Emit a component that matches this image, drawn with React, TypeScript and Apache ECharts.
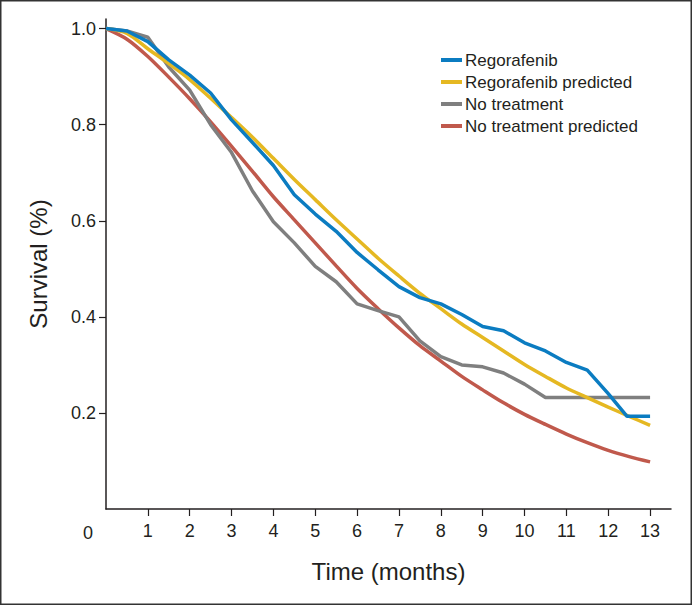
import React, { useEffect, useRef } from "react";
import * as echarts from "echarts";

const seriesNames = ["Regorafenib", "Regorafenib predicted", "No treatment", "No treatment predicted"];
const seriesColors = ["#0b7cc1", "#e5b822", "#7f7f7f", "#c0594c"];

const regorafenib: [number, number][] = [
  [0, 1], [0.5, 0.995], [1, 0.973], [1.5, 0.935], [2, 0.903], [2.5, 0.866], [3, 0.81],
  [3.5, 0.763], [4, 0.715], [4.5, 0.654], [5, 0.614], [5.5, 0.578], [6, 0.534],
  [6.5, 0.498], [7, 0.463], [7.5, 0.44], [8, 0.427], [8.5, 0.405], [9, 0.38],
  [9.5, 0.371], [10, 0.346], [10.5, 0.329], [11, 0.305], [11.5, 0.289], [12, 0.24],
  [12.45, 0.193], [13, 0.193],
];

const regorafenibPredicted: [number, number][] = [
  [0, 1], [0.5, 0.99], [1, 0.958], [1.5, 0.927], [2, 0.894], [2.5, 0.855], [3, 0.815],
  [3.5, 0.774], [4, 0.73], [4.5, 0.686], [5, 0.644], [5.5, 0.602], [6, 0.562],
  [6.5, 0.522], [7, 0.485], [7.5, 0.449], [8, 0.417], [8.5, 0.385], [9, 0.357],
  [9.5, 0.329], [10, 0.301], [10.5, 0.276], [11, 0.252], [11.5, 0.232], [12, 0.212],
  [12.5, 0.193], [13, 0.174],
];

const noTreatment: [number, number][] = [
  [0, 1], [0.5, 0.995], [1, 0.982], [1.5, 0.92], [2, 0.872], [2.5, 0.8], [3, 0.742],
  [3.5, 0.662], [4, 0.598], [4.5, 0.554], [5, 0.505], [5.5, 0.473], [6, 0.427],
  [6.5, 0.413], [7, 0.4], [7.5, 0.35], [8, 0.317], [8.5, 0.3], [9, 0.296],
  [9.5, 0.283], [10, 0.26], [10.5, 0.232], [13, 0.232],
];

const noTreatmentPredicted: [number, number][] = [
  [0, 1], [0.5, 0.978], [1, 0.942], [1.5, 0.899], [2, 0.854], [2.5, 0.806], [3, 0.755],
  [3.5, 0.703], [4, 0.65], [4.5, 0.602], [5, 0.554], [5.5, 0.506], [6, 0.459],
  [6.5, 0.417], [7, 0.377], [7.5, 0.34], [8, 0.308], [8.5, 0.276], [9, 0.248],
  [9.5, 0.221], [10, 0.197], [10.5, 0.176], [11, 0.156], [11.5, 0.138], [12, 0.122],
  [12.5, 0.109], [13, 0.098],
];

const xTickValues = [1, 2, 3, 4, 5, 6, 7, 8, 9, 10, 11, 12, 13];
const yTickValues = [0.2, 0.4, 0.6, 0.8, 1.0];

const FONT = "'Liberation Sans', Arial, sans-serif";
const INK = "#231f20";

export default function App() {
  const ref = useRef<HTMLDivElement>(null);

  useEffect(() => {
    if (!ref.current) return;
    const chart = echarts.init(ref.current, null, { renderer: "svg" });
    const allData = [regorafenib, regorafenibPredicted, noTreatment, noTreatmentPredicted];
    chart.setOption({
      animation: false,
      backgroundColor: "#ffffff",
      grid: { left: 106, right: 21, top: 19, bottom: 96, containLabel: false },
      legend: {
        orient: "vertical",
        left: 436,
        top: 46,
        icon: "rect",
        itemWidth: 21,
        itemHeight: 4,
        itemGap: 4,
        data: seriesNames,
        textStyle: { fontFamily: FONT, fontSize: 17, color: INK, lineHeight: 18, padding: [0, 0, 0, -2] },
      },
      xAxis: {
        type: "value",
        min: 0,
        max: 13.5,
        interval: 1,
        name: "Time (months)",
        nameLocation: "middle",
        nameGap: 50,
        nameTextStyle: { fontFamily: FONT, fontSize: 24, color: INK },
        splitLine: { show: false },
        axisLine: { lineStyle: { color: INK, width: 1.5 } },
        axisTick: { customValues: xTickValues, length: 7, lineStyle: { color: INK, width: 1.2 } },
        axisLabel: {
          customValues: xTickValues,
          fontFamily: FONT,
          fontSize: 18,
          color: INK,
          margin: 13,
        },
      },
      yAxis: {
        type: "value",
        min: 0,
        max: 1.02,
        interval: 0.2,
        name: "Survival (%)",
        nameLocation: "middle",
        nameGap: 56,
        nameTextStyle: { fontFamily: FONT, fontSize: 24, color: INK },
        splitLine: { show: false },
        axisLine: { show: true, lineStyle: { color: INK, width: 1.5 } },
        axisTick: { show: true, customValues: yTickValues, length: 7, lineStyle: { color: INK, width: 1.2 } },
        axisLabel: {
          customValues: yTickValues,
          formatter: (v: number) => v.toFixed(1),
          fontFamily: FONT,
          fontSize: 18,
          color: INK,
          margin: 10,
        },
      },
      graphic: [
        {
          type: "rect",
          shape: { x: 0.75, y: 0.75, width: 690.5, height: 603.5 },
          style: { fill: "none", stroke: "#333333", lineWidth: 1.5 },
          silent: true,
        },
        {
          type: "text",
          x: 88,
          y: 533,
          style: {
            text: "0",
            fontFamily: FONT,
            fontSize: 18,
            fill: INK,
            textAlign: "center",
            textVerticalAlign: "middle",
          },
        },
      ],
      series: seriesNames.map((name, i) => ({
        name,
        type: "line",
        data: allData[i],
        showSymbol: false,
        smooth: i === 1 || i === 3 ? 0.3 : false,
        lineStyle: { color: seriesColors[i], width: 3.5 },
        itemStyle: { color: seriesColors[i] },
        z: i === 3 ? 3 : i === 2 ? 4 : i === 1 ? 5 : 6,
      })),
    });
    return () => chart.dispose();
  }, []);

  return (
    <div
      ref={ref}
      style={{ position: "fixed", left: 0, top: 0, width: 692, height: 605, background: "#fff" }}
    />
  );
}
